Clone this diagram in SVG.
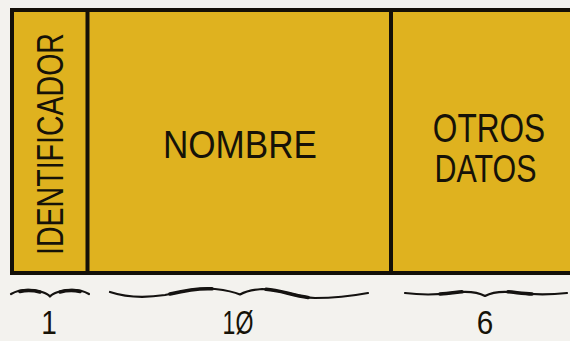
<svg xmlns="http://www.w3.org/2000/svg" width="570" height="341" viewBox="0 0 570 341">
<style>
.lbl{font-family:"Liberation Sans",Arial,sans-serif;fill:#161208;text-anchor:middle;}
.cell{fill:#dfb21f;stroke:none;}
.edge{stroke:#141008;stroke-width:4;fill:none;}
.brace{fill:none;stroke:#141210;stroke-width:2.2;stroke-linecap:round;stroke-linejoin:round;}
.lobe{fill:none;stroke:#141210;stroke-width:3.6;stroke-linecap:round;}
</style>
<rect x="0" y="0" width="570" height="341" fill="#f3f2ee"/>
<g id="identificador">
<rect class="cell" x="12" y="10" width="75.5" height="263"/>
<text class="lbl" font-size="36" transform="translate(63,144) rotate(-90) scale(0.793,1)">IDENTIFICADOR</text>
</g>
<g id="nombre">
<rect class="cell" x="87.5" y="10" width="303.5" height="263"/>
<text class="lbl" font-size="39" transform="translate(240,158) scale(0.9,1)">NOMBRE</text>
</g>
<g id="otros">
<rect class="cell" x="391" y="10" width="179" height="263"/>
<text class="lbl" font-size="40" transform="translate(489,142) scale(0.79,1)">OTROS</text>
<text class="lbl" font-size="38" transform="translate(485.5,182) scale(0.8,1)">DATOS</text>
</g>
<g id="connectors">
<path class="edge" d="M570,10 H12 V273 H570 M87.5,10 V273 M391,10 V273"/>
<path class="brace" d="M11,294 C20,289 32,289 42,292 Q48,294 50,296.5 Q52,294 58,292 C68,289 80,289 89,294"/>
<path class="lobe" d="M20,291.5 C27,290 34,290.5 40,292 M60,292 C66,290.5 73,290 80,291.5"/>
<path class="brace" d="M110,292 C125,297 145,298 165,295 C185,291 200,287 215,289 Q232,291 240,294.5 Q248,290 262,289 C280,289 295,297 315,298 C335,298 352,296 368,293"/>
<path class="lobe" d="M170,294 C185,290.5 198,288 212,288.8 M266,289.3 C280,290 292,295.5 308,297.5"/>
<path class="brace" d="M405,293 C420,295 440,295 460,292 Q476,291 485,296 Q494,291 510,292 C530,295 550,295 567,293"/>
<path class="lobe" d="M440,294 C448,293.5 455,292.5 462,291.8 M508,291.8 C516,292.5 524,293.5 532,294"/>
</g>
<g id="sizes">
<text class="lbl" font-size="33" transform="translate(49,333.5) scale(0.85,1)">1</text>
<text class="lbl" font-size="33" transform="translate(238,333.5) scale(0.7,1)">1Ø</text>
<text class="lbl" font-size="33" transform="translate(485,333.5) scale(0.9,1)">6</text>
</g>
</svg>
